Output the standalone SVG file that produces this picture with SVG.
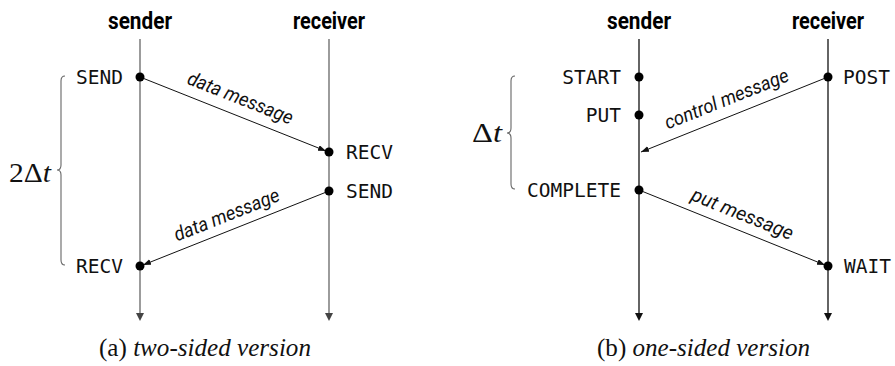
<svg xmlns="http://www.w3.org/2000/svg" width="895" height="366" viewBox="0 0 895 366">
<defs>
<style>
.bg{fill:#fff}
.head{font-family:Roboto,"Liberation Sans",sans-serif;font-weight:700;font-size:24px;fill:#000;text-anchor:middle}
.mono{font-family:"DejaVu Sans Mono","Liberation Mono",monospace;font-size:19.5px;fill:#111}
.msg{font-family:Roboto,"Liberation Sans",sans-serif;font-style:italic;font-size:19.5px;fill:#111;text-anchor:middle}
.cap{font-family:"Liberation Serif",serif;font-size:25px;fill:#111}
.math{font-family:"Liberation Serif",serif;font-size:27px;fill:#111}
.lifeA{stroke:#666;stroke-width:1.3;fill:none}
.lifeB{stroke:#111;stroke-width:1.3;fill:none}
.headA{fill:#444}
.headB{fill:#111}
.arrow{stroke:#111;stroke-width:1;fill:none;marker-end:url(#ah)}
.dot{fill:#000}
.brace{stroke:#666;stroke-width:1.1;fill:none}
</style>
<marker id="ah" markerUnits="userSpaceOnUse" markerWidth="9" markerHeight="7" refX="8" refY="3" orient="auto">
<path d="M0,0 L8,3 L0,6 z" fill="#111"/>
</marker>
</defs>
<rect class="bg" x="0" y="0" width="895" height="366"/>

<g id="lifelines">
<line class="lifeA" x1="140" y1="39" x2="140" y2="314"/>
<polygon class="headA" points="136,313 144,313 140,321"/>
<line class="lifeA" x1="329" y1="39" x2="329" y2="314"/>
<polygon class="headA" points="325,313 333,313 329,321"/>
<line class="lifeB" x1="639" y1="39" x2="639" y2="314"/>
<polygon class="headB" points="635,313 643,313 639,321"/>
<line class="lifeB" x1="828" y1="39" x2="828" y2="314"/>
<polygon class="headB" points="824,313 832,313 828,321"/>
</g>

<g id="headers">
<text class="head" x="140" y="29" textLength="64" lengthAdjust="spacingAndGlyphs">sender</text>
<text class="head" x="329" y="29" textLength="72" lengthAdjust="spacingAndGlyphs">receiver</text>
<text class="head" x="639" y="29" textLength="64" lengthAdjust="spacingAndGlyphs">sender</text>
<text class="head" x="828" y="29" textLength="72" lengthAdjust="spacingAndGlyphs">receiver</text>
</g>

<g id="connectors">
<line class="arrow" x1="140" y1="77" x2="326" y2="151"/>
<line class="arrow" x1="329" y1="191" x2="143" y2="265"/>
<line class="arrow" x1="828" y1="77" x2="641" y2="152"/>
<line class="arrow" x1="639" y1="190" x2="825" y2="265"/>
<text class="msg" x="238" y="104" textLength="112" lengthAdjust="spacingAndGlyphs" transform="rotate(21.6 238 104)">data message</text>
<text class="msg" x="229" y="221" textLength="112" lengthAdjust="spacingAndGlyphs" transform="rotate(-21.6 229 221)">data message</text>
<text class="msg" x="729" y="105" textLength="132" lengthAdjust="spacingAndGlyphs" transform="rotate(-21.85 729 105)">control message</text>
<text class="msg" x="740" y="220" textLength="108" lengthAdjust="spacingAndGlyphs" transform="rotate(21.9 740 220)">put message</text>
</g>

<g id="a-send">
<circle class="dot" cx="140" cy="77" r="4.5"/>
<text class="mono" x="123" y="84" text-anchor="end">SEND</text>
</g>
<g id="a-recv">
<circle class="dot" cx="329" cy="152" r="4.5"/>
<text class="mono" x="346" y="159">RECV</text>
</g>
<g id="a-send2">
<circle class="dot" cx="329" cy="191" r="4.5"/>
<text class="mono" x="346" y="198">SEND</text>
</g>
<g id="a-recv2">
<circle class="dot" cx="140" cy="266" r="4.5"/>
<text class="mono" x="123" y="273" text-anchor="end">RECV</text>
</g>

<g id="b-start">
<circle class="dot" cx="639" cy="77" r="4.5"/>
<text class="mono" x="621" y="84" text-anchor="end">START</text>
</g>
<g id="b-put">
<circle class="dot" cx="639" cy="115" r="4.5"/>
<text class="mono" x="621" y="122" text-anchor="end">PUT</text>
</g>
<g id="b-complete">
<circle class="dot" cx="639" cy="190" r="4.5"/>
<text class="mono" x="621" y="197" text-anchor="end">COMPLETE</text>
</g>
<g id="b-post">
<circle class="dot" cx="828" cy="77" r="4.5"/>
<text class="mono" x="843" y="84">POST</text>
</g>
<g id="b-wait">
<circle class="dot" cx="828" cy="266" r="4.5"/>
<text class="mono" x="844" y="273">WAIT</text>
</g>

<g id="brace-a">
<path class="brace" d="M65,76 Q61,76 61,81 L61,165 Q61,170 57,170 Q61,170 61,175 L61,260 Q61,265 65,265"/>
<text class="math" x="9" y="182" textLength="42" lengthAdjust="spacingAndGlyphs">2Δ<tspan font-style="italic">t</tspan></text>
</g>
<g id="brace-b">
<path class="brace" d="M515,76 Q511,76 511,81 L511,128 Q511,133 507,133 Q511,133 511,138 L511,184 Q511,189 515,189"/>
<text class="math" x="472" y="142" textLength="30" lengthAdjust="spacingAndGlyphs">Δ<tspan font-style="italic">t</tspan></text>
</g>

<g id="captions">
<text class="cap" x="99" y="356" textLength="212" lengthAdjust="spacingAndGlyphs">(a) <tspan font-style="italic">two-sided version</tspan></text>
<text class="cap" x="597" y="356" textLength="213" lengthAdjust="spacingAndGlyphs">(b) <tspan font-style="italic">one-sided version</tspan></text>
</g>
</svg>
